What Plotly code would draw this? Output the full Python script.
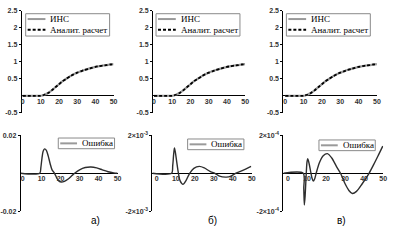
import plotly.graph_objects as go

# ---------------- data ----------------
t_top = [0, 10, 12, 14, 16, 18, 20, 22, 24, 26, 28, 30, 32, 34, 36, 38, 40, 42, 44, 46, 48, 50]
ins_vals = [0, 0, 0.03, 0.08, 0.16, 0.25, 0.34, 0.43, 0.50, 0.57, 0.63, 0.68, 0.72, 0.76, 0.79,
            0.82, 0.85, 0.87, 0.89, 0.90, 0.92, 0.93]
analyt_vals = [0, 0, 0.03, 0.08, 0.16, 0.25, 0.34, 0.43, 0.50, 0.57, 0.63, 0.68, 0.72, 0.76, 0.79,
               0.82, 0.85, 0.87, 0.89, 0.90, 0.92, 0.93]

t_err_a = [-1, 9, 9.6, 10.2, 10.8, 11.6, 12.5, 13.5, 14.5, 15.5, 16.8, 18, 19, 20.5, 22, 24, 26,
           27.4, 30, 33, 36, 39, 42, 45, 48, 50]
err_a = [0, 0, 0.003, 0.008, 0.0115, 0.0128, 0.012, 0.009, 0.005, 0.0018, 0, -0.0025, -0.004,
         -0.0046, -0.0042, -0.003, -0.0012, 0, 0.0018, 0.003, 0.0033, 0.0028, 0.0018, 0.0008,
         0.0002, 0]

t_err_b = [-2.3, 7.8, 8.4, 8.9, 9.3, 9.8, 10.5, 11.4, 12.3, 13.8, 15.3, 17.3, 19.5, 22.4, 25, 28,
           30.6, 33, 36.6, 39, 41.4, 44, 47, 49.6]
err_b = [0, 0, 0.0004, 0.0010, 0.00133, 0.0011, 0.0006, 0, -0.0004, -0.00058, -0.0004, 0,
         0.00026, 0.00036, 0.00028, 0.0001, 0, -0.00015, -0.0002, -0.00015, 0, 0.0001, 0.00023,
         0.00036]

t_err_c = [-2.4, 8.0, 8.3, 8.6, 9.0, 9.6, 10.0, 10.4, 11.0, 12.0, 12.6, 13.3, 14.0, 14.8, 16.5,
           18.5, 20.7, 23, 25.5, 27.6, 30, 32, 33.8, 36, 39, 42.6, 45, 47.5, 49.8]
err_c = [0, 0, -0.8e-4, -1.66e-4, -1.2e-4, 0, 0.6e-4, 0.77e-4, 0.55e-4, 0.05e-4, -0.25e-4,
         -0.41e-4, -0.3e-4, 0, 0.55e-4, 0.92e-4, 1.03e-4, 0.8e-4, 0.35e-4, 0, -0.55e-4, -0.9e-4,
         -1.06e-4, -0.95e-4, -0.55e-4, 0, 0.45e-4, 0.95e-4, 1.42e-4]

x_ticks = [0, 10, 20, 30, 40, 50]
top_y_ticks = [-0.5, 0.5, 1, 1.5, 2, 2.5]
top_y_labels = ["-0.5", "0.5", "1", "1.5", "2", "2.5"]
err_ticks_a = [-0.02, 0.02]
err_labels_a = ["-0.02", "0.02"]
err_ticks_b = [-2e-3, 2e-3]
err_labels_b = ["-2×10<sup>-3</sup>", "2×10<sup>-3</sup>"]
err_ticks_c = [-2e-4, 2e-4]
err_labels_c = ["-2×10<sup>-4</sup>", "2×10<sup>-4</sup>"]
panel_labels = ["а)", "б)", "в)"]
name_ins = "ИНС"
name_analyt = "Аналит. расчет"
name_err = "Ошибка"

# ---------------- layout helpers (pixels -> paper) ----------------
W, H = 399, 243


def fx(p):
    return p / W


def fy(p):
    return 1 - p / H


GRAY = "#9a9a9a"
ERR_COL = "#2e2e2e"
tickfont = dict(family="Arial", size=7, color="#333333", weight="bold")

fig = go.Figure()

suffix = ["", "2", "3", "4", "5", "6"]

# top panels
for k in range(3):
    s = suffix[k]
    fig.add_trace(go.Scatter(x=t_top, y=ins_vals, xaxis="x" + s, yaxis="y" + s, mode="lines",
                             line=dict(color=GRAY, width=2.2, shape="spline", smoothing=0.6),
                             name=name_ins, showlegend=False))
    fig.add_trace(go.Scatter(x=t_top, y=analyt_vals, xaxis="x" + s, yaxis="y" + s, mode="lines",
                             line=dict(color="black", width=1.8, dash="3px,2px", shape="spline",
                                       smoothing=0.6),
                             name=name_analyt, showlegend=False))

# bottom panels
for k, (tt, ee) in enumerate([(t_err_a, err_a), (t_err_b, err_b), (t_err_c, err_c)]):
    s = suffix[k + 3]
    fig.add_trace(go.Scatter(x=tt, y=ee, xaxis="x" + s, yaxis="y" + s, mode="lines",
                             line=dict(color=ERR_COL, width=1.4, shape="spline", smoothing=0.8),
                             name=name_err, showlegend=False))

layout = dict(width=W, height=H, margin=dict(l=0, r=0, t=0, b=0),
              paper_bgcolor="white", plot_bgcolor="white", showlegend=False)

# panel geometry in pixels: (x_left, x_right, x_range_min)
top_geo = [(21, 114, -0.5), (154, 247.3, -0.5), (286, 380.7, -1)]
bot_geo = [(20, 118, -1), (153.3, 254, -2.3), (286, 387, -2.4)]
top_ydom = [fy(112), fy(7)]
bot_ydom = [fy(213.6), fy(135)]
# x axes carry only the tick labels; the axis line itself is the y zero line
top_label_pos = fy(94.5)
bot_label_pos = fy(174.3)

xcommon = dict(showgrid=False, zeroline=False, showline=False,
               tickvals=x_ticks, ticktext=[str(v) for v in x_ticks], ticks="", tickfont=tickfont,
               anchor="free")
ycommon = dict(showgrid=False, zeroline=True, zerolinecolor="black", zerolinewidth=1,
               showline=True, linecolor="black", linewidth=1,
               ticks="outside", ticklen=2, tickcolor="black", tickfont=tickfont)

for k in range(3):
    s = suffix[k]
    xl, xr, xmin = top_geo[k]
    layout["xaxis" + s] = dict(xcommon, domain=[fx(xl), fx(xr)], range=[xmin, 50],
                               position=top_label_pos)
    layout["yaxis" + s] = dict(ycommon, domain=top_ydom, range=[-0.5, 2.5], anchor="x" + s,
                               tickvals=top_y_ticks, ticktext=top_y_labels)

err_tick_sets = [(err_ticks_a, err_labels_a, 0.02), (err_ticks_b, err_labels_b, 2e-3),
                 (err_ticks_c, err_labels_c, 2e-4)]
for k in range(3):
    s = suffix[k + 3]
    xl, xr, xmin = bot_geo[k]
    tv, tt, lim = err_tick_sets[k]
    layout["xaxis" + s] = dict(xcommon, domain=[fx(xl), fx(xr)], range=[xmin, 50],
                               position=bot_label_pos)
    layout["yaxis" + s] = dict(ycommon, domain=bot_ydom, range=[-lim, lim], anchor="x" + s,
                               tickvals=tv, ticktext=tt)

shapes = []
annotations = []
legfont = dict(family="Liberation Serif, Times New Roman, serif", size=9, color="black")

# top legends (box px: x0, x1, y0, y1)
for dx in [0, 132, 264]:
    shapes.append(dict(type="rect", xref="paper", yref="paper", x0=fx(25 + dx), x1=fx(110 + dx),
                       y0=fy(33), y1=fy(10), line=dict(color="#8a8a8a", width=1),
                       fillcolor="white", layer="above"))
    shapes.append(dict(type="line", xref="paper", yref="paper", x0=fx(27 + dx), x1=fx(45 + dx),
                       y0=fy(15.5), y1=fy(15.5), line=dict(color=GRAY, width=2), layer="above"))
    shapes.append(dict(type="line", xref="paper", yref="paper", x0=fx(27 + dx), x1=fx(45 + dx),
                       y0=fy(26.5), y1=fy(26.5), line=dict(color="black", width=1.8, dash="3px,2px"),
                       layer="above"))
    annotations.append(dict(text=name_ins, xref="paper", yref="paper", x=fx(48 + dx), y=fy(15.5),
                            xanchor="left", yanchor="middle", showarrow=False, font=legfont))
    annotations.append(dict(text=name_analyt, xref="paper", yref="paper", x=fx(48 + dx),
                            y=fy(26.5), xanchor="left", yanchor="middle", showarrow=False,
                            font=legfont))

# bottom legends
for dx, dy in [(0, 0), (131, 1), (264, 2)]:
    shapes.append(dict(type="rect", xref="paper", yref="paper", x0=fx(58 + dx), x1=fx(115 + dx),
                       y0=fy(149 + dy), y1=fy(138 + dy), line=dict(color="#8a8a8a", width=1),
                       fillcolor="white", layer="above"))
    shapes.append(dict(type="line", xref="paper", yref="paper", x0=fx(60 + dx), x1=fx(77 + dx),
                       y0=fy(143.5 + dy), y1=fy(143.5 + dy), line=dict(color=GRAY, width=2),
                       layer="above"))
    annotations.append(dict(text=name_err, xref="paper", yref="paper", x=fx(80 + dx),
                            y=fy(143.5 + dy), xanchor="left", yanchor="middle", showarrow=False,
                            font=legfont))

# panel captions
for lab, xp in zip(panel_labels, [96, 214, 345]):
    annotations.append(dict(text=lab, xref="paper", yref="paper", x=fx(xp), y=fy(223),
                            xanchor="center", yanchor="middle", showarrow=False,
                            font=dict(family="Arial", size=10, color="black")))

layout["shapes"] = shapes
layout["annotations"] = annotations
fig.update_layout(**layout)
fig.write_html("out.html",
               config={"displayModeBar": False, "staticPlot": True},
               post_script="document.body.style.margin='0';document.body.style.overflow='hidden';")
